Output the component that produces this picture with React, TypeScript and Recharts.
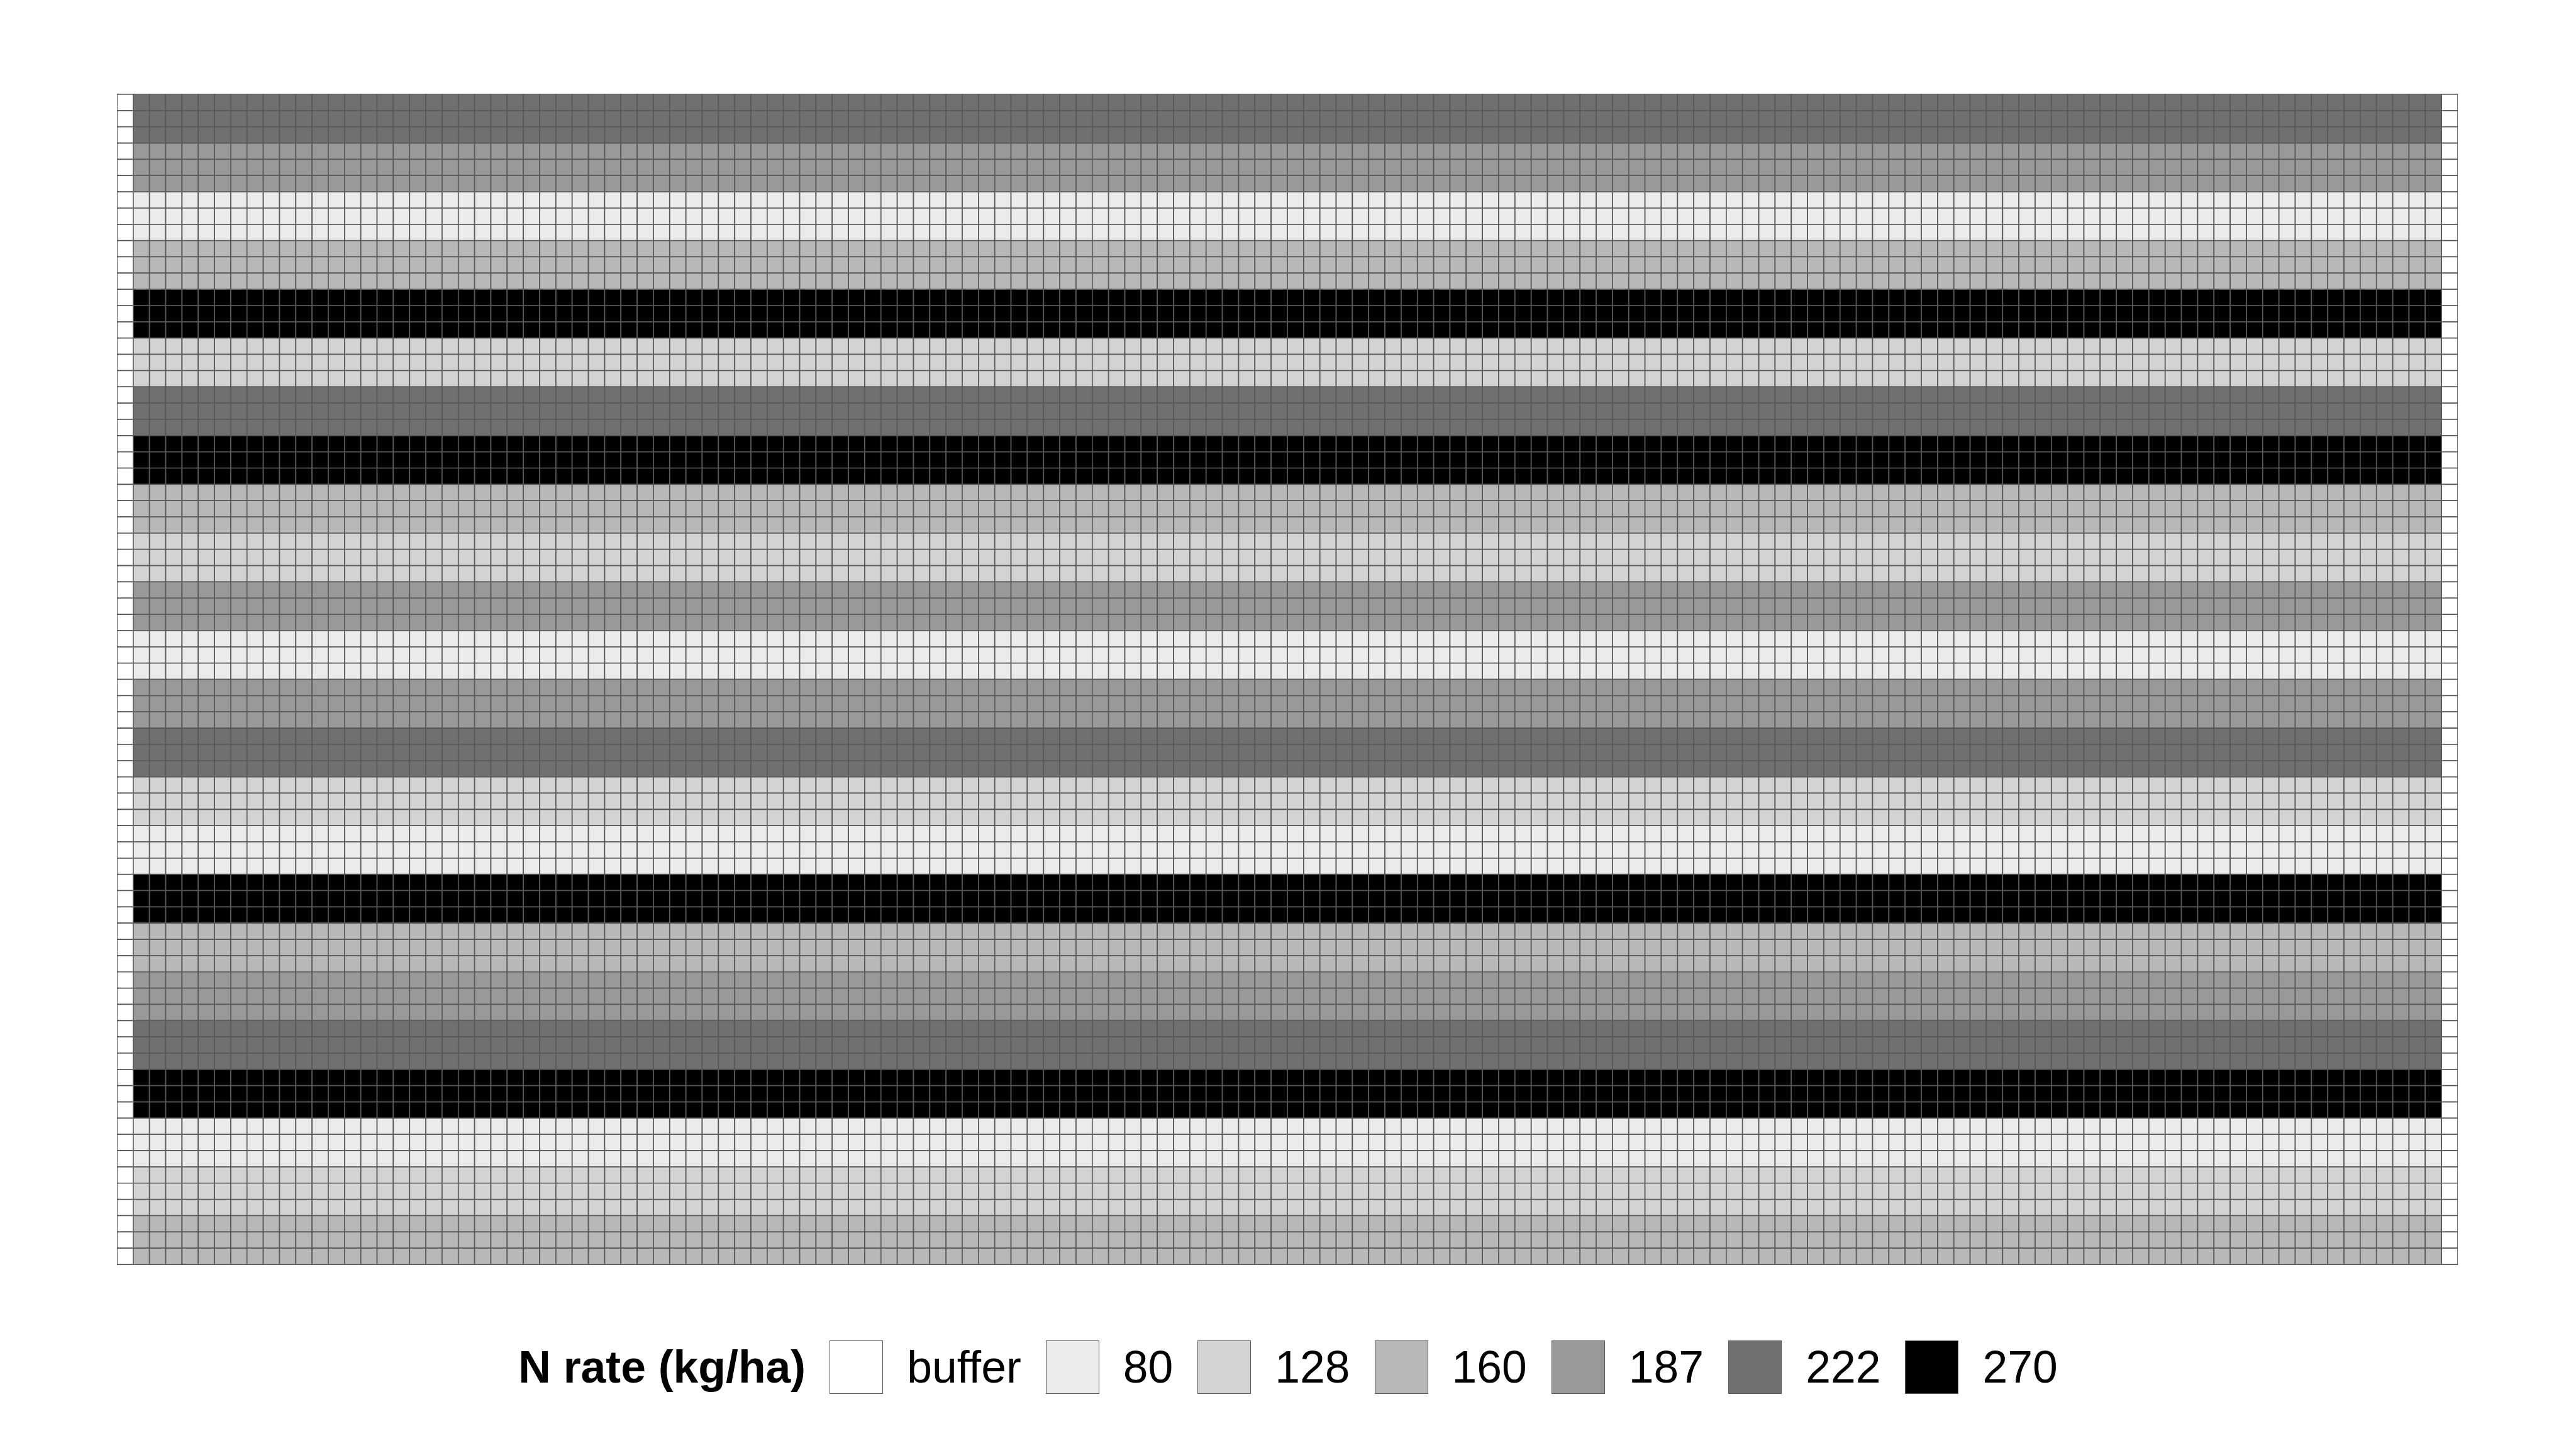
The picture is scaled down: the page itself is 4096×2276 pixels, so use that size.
import { BarChart, Bar, XAxis, YAxis, Cell } from "recharts";

// N rate classes and their fill
const rateLabels = ["buffer", "80", "128", "160", "187", "222", "270"];
const rateColors = ["#FFFFFF", "#EBEBEB", "#D3D3D3", "#B8B8B8", "#999999", "#707070", "#000000"];

// N rate of each strip, top to bottom
const stripRates = [
    "222", "187", "80", "160", "270", "128",
    "222", "270", "160", "128", "187", "80",
    "187", "222", "128", "80", "270", "160",
    "187", "222", "270", "80", "128", "160",
];
const rowsPerStrip = 3;
const fieldColumns = 142;
const bufferColumns = 1;

const totalColumns = fieldColumns + 2 * bufferColumns;
const columnKeys = Array.from({ length: totalColumns }, (_, j) => `c${j}`);
const isBuffer = (j: number) => j < bufferColumns || j >= bufferColumns + fieldColumns;
const colorOf = (rate: string) => rateColors[rateLabels.indexOf(rate)];

const rows = stripRates.flatMap((rate, s) =>
    Array.from({ length: rowsPerStrip }, (_, r) => {
        const d: Record<string, string | number> = { row: `r${s * rowsPerStrip + r}`, rate };
        columnKeys.forEach((k) => (d[k] = 1));
        return d;
    })
);

const FONT = '"Liberation Sans", Arial, sans-serif';
const GRID = "#595959";

function NRateLegend() {
    return (
        <div style={{
            position: "absolute", left: 0, top: 2131, width: 4096, height: 86,
            display: "flex", justifyContent: "center", alignItems: "center",
            fontFamily: FONT, fontSize: 71.5, color: "#000",
        }}>
            <span style={{ fontWeight: "bold", marginRight: 38 }}>N rate (kg/ha)</span>
            {rateLabels.map((label, i) => (
                <span key={label} style={{ display: "flex", alignItems: "center", marginRight: i < rateLabels.length - 1 ? 39 : 0 }}>
                    <span style={{
                        width: 83, height: 83, boxSizing: "content-box",
                        background: rateColors[i], border: `1.7px solid ${GRID}`, marginRight: 38,
                    }} />
                    <span>{label}</span>
                </span>
            ))}
        </div>
    );
}

export default function App() {
    return (
        <div style={{ position: "absolute", left: 0, top: 0, width: 4096, height: 2276, background: "#fff" }}>
            <BarChart width={4096} height={2276}
                layout="vertical"
                data={rows}
                margin={{ top: 150, right: 188, bottom: 265, left: 186 }}
                barCategoryGap={0}
                barGap={0}>

                <XAxis type="number" domain={[0, totalColumns]} allowDataOverflow hide />
                <YAxis type="category" dataKey="row" hide />

                {columnKeys.map((key, j) => (
                    <Bar key={key}
                        dataKey={key}
                        stackId="field"
                        fill="#FFFFFF"
                        stroke={GRID}
                        strokeWidth={1.7}
                        isAnimationActive={false}>
                        {isBuffer(j) ? null : rows.map((d, i) => <Cell key={i} fill={colorOf(d.rate as string)} />)}
                    </Bar>
                ))}
            </BarChart>
            <NRateLegend />
        </div>
    );
}
